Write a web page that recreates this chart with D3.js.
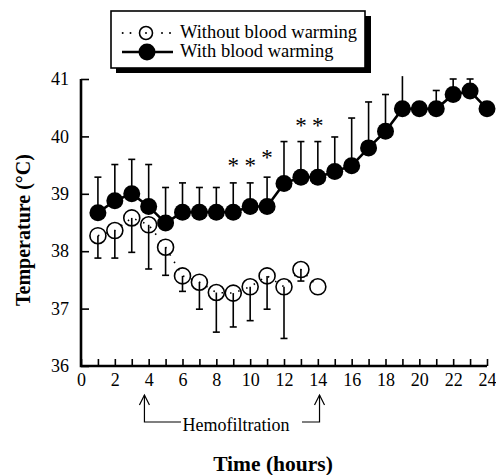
<!DOCTYPE html>
<html><head><meta charset="utf-8">
<script src="https://cdn.jsdelivr.net/npm/d3@7"></script>
<style>body{margin:0;background:#fff}svg{display:block}</style>
</head><body>
<script>
const hours = [1,2,3,4,5,6,7,8,9,10,11,12,13,14,15,16,17,18,19,20,21,22,23,24];
const withWarm = [38.67,38.88,39.0,38.78,38.49,38.68,38.68,38.68,38.68,38.78,38.78,39.18,39.29,39.29,39.39,39.49,39.80,40.09,40.48,40.48,40.48,40.73,40.79,40.48];
const withWarmUpper = [39.29,39.51,39.6,39.51,39.11,39.19,39.11,39.11,39.19,39.19,39.29,39.91,39.91,39.91,39.99,40.32,40.60,40.73,41.05,null,40.8,41.0,41.0,null];
const noHours = [1,2,3,4,5,6,7,8,9,10,11,12,13,14];
const noWarm = [38.27,38.36,38.58,38.46,38.07,37.57,37.46,37.28,37.27,37.38,37.57,37.38,37.68,37.38];
const noWarmLower = [37.88,37.88,37.98,37.69,37.58,37.30,36.99,36.59,36.68,36.79,36.99,36.48,37.48,null];
const starHours = [9,10,11,13,14];
const starLevels = [39.55,39.55,39.69,40.25,40.25];
const xTicks = d3.range(0,25,1);
const xLabels = d3.range(0,25,2);
const yTicks = [36,37,38,39,40,41];
const legendLabels = ["Without blood warming","With blood warming"];
const hemoRange = [3.75,14.1];

const FONT = "'Liberation Serif', Tinos, 'Times New Roman', 'DejaVu Serif', serif";
const W=496,H=475;
const svg=d3.select("body").append("svg").attr("width",W).attr("height",H).attr("font-family",FONT);
const x=d3.scaleLinear().domain([0,24]).range([81,487]);
const y=d3.scaleLinear().domain([36,41]).range([366,79]);

// axes
const xAxis=d3.axisBottom(x).tickValues(xTicks).tickSize(-7).tickFormat(d=> xLabels.includes(d)?d:"").tickPadding(10);
const gx=svg.append("g").attr("transform",`translate(0,${y(36)})`).call(xAxis).attr("font-family",FONT).attr("font-size",18);
gx.select(".domain").remove();
gx.selectAll(".tick line").attr("stroke","#000").attr("stroke-width",1.6);
gx.selectAll(".tick text").attr("fill","#000").attr("dy","0.55em");
const yAxis=d3.axisLeft(y).tickValues(yTicks).tickSize(-8).tickFormat(d3.format("d")).tickPadding(12);
const gy=svg.append("g").attr("transform",`translate(${x(0)},0)`).call(yAxis).attr("font-family",FONT).attr("font-size",18);
gy.select(".domain").remove();
gy.selectAll(".tick line").attr("stroke","#000").attr("stroke-width",1.6);
gy.selectAll(".tick text").attr("fill","#000");
svg.append("path").attr("d",`M${x(0)},${y(41)}V${y(36)}H${x(24)}`).attr("fill","none").attr("stroke","#000").attr("stroke-width",2.6);

// open series
const noData=noHours.map((h,i)=>({h,v:noWarm[i],lo:noWarmLower[i]}));
svg.append("path").datum(noData).attr("d",d3.line().x(d=>x(d.h)).y(d=>y(d.v)))
 .attr("fill","none").attr("stroke","#000").attr("stroke-width",1.6).attr("stroke-dasharray","1.5,7");
const eb1=svg.append("g").attr("stroke","#000").attr("stroke-width",1.6);
noData.filter(d=>d.lo!=null).forEach(d=>{
  eb1.append("line").attr("x1",x(d.h)).attr("x2",x(d.h)).attr("y1",y(d.v)).attr("y2",y(d.lo));
  eb1.append("line").attr("x1",x(d.h)-3.5).attr("x2",x(d.h)+3.5).attr("y1",y(d.lo)).attr("y2",y(d.lo));
});
svg.append("g").selectAll("circle").data(noData).join("circle")
 .attr("cx",d=>x(d.h)).attr("cy",d=>y(d.v)).attr("r",8).attr("fill","none").attr("stroke","#000").attr("stroke-width",1.6);

// filled series
const wData=hours.map((h,i)=>({h,v:withWarm[i],hi:withWarmUpper[i]}));
const eb2=svg.append("g").attr("stroke","#000").attr("stroke-width",1.6);
wData.filter(d=>d.hi!=null).forEach(d=>{
  eb2.append("line").attr("x1",x(d.h)).attr("x2",x(d.h)).attr("y1",y(d.v)).attr("y2",y(d.hi));
  if(d.hi<=41) eb2.append("line").attr("x1",x(d.h)-3.5).attr("x2",x(d.h)+3.5).attr("y1",y(d.hi)).attr("y2",y(d.hi));
});
svg.append("path").datum(wData).attr("d",d3.line().x(d=>x(d.h)).y(d=>y(d.v)))
 .attr("fill","none").attr("stroke","#000").attr("stroke-width",2.6);
svg.append("g").selectAll("circle").data(wData).join("circle")
 .attr("cx",d=>x(d.h)).attr("cy",d=>y(d.v)).attr("r",8.5).attr("fill","#000");

// stars
svg.append("g").selectAll("text").data(starHours).join("text")
 .attr("x",d=>x(d)).attr("y",(d,i)=>y(starLevels[i])+11).attr("text-anchor","middle").attr("font-size",23).text("*");

// axis titles
svg.append("text").attr("transform",`translate(30,230) rotate(-90)`).attr("text-anchor","middle")
 .attr("font-size",20).attr("font-weight","bold").text("Temperature (°C)");
svg.append("text").attr("x",273).attr("y",471).attr("text-anchor","middle").attr("font-size",21.5).attr("font-weight","bold").text("Time (hours)");

// hemofiltration annotation
const ax1=x(hemoRange[0]), ax2=x(hemoRange[1]), arrTop=395, arrBot=422;
const ann=svg.append("g").attr("stroke","#000").attr("stroke-width",1.2).attr("fill","none");
ann.append("path").attr("d",`M${ax1},${arrTop}V${arrBot}H181`);
ann.append("path").attr("d",`M${ax1-5},${arrTop+10}L${ax1},${arrTop}L${ax1+5},${arrTop+10}`);
ann.append("path").attr("d",`M302,${arrBot}H${ax2}V${arrTop}`);
ann.append("path").attr("d",`M${ax2-5},${arrTop+10}L${ax2},${arrTop}L${ax2+5},${arrTop+10}`);
svg.append("text").attr("x",236).attr("y",431).attr("text-anchor","middle").attr("font-size",18).text("Hemofiltration");

// legend
const lg=svg.append("g");
lg.append("rect").attr("x",116).attr("y",16).attr("width",255).attr("height",57).attr("fill","#000");
lg.append("rect").attr("x",111).attr("y",11).attr("width",254).attr("height",57).attr("fill","#fff").attr("stroke","#000").attr("stroke-width",1.6);
[122.7,130.5,162,170].forEach(cx=>lg.append("circle").attr("cx",cx).attr("cy",33).attr("r",1).attr("fill","#000"));
lg.append("circle").attr("cx",146).attr("cy",33).attr("r",6.5).attr("fill","#fff").attr("stroke","#000").attr("stroke-width",1.6);
lg.append("circle").attr("cx",146).attr("cy",33).attr("r",1).attr("fill","#000");
lg.append("line").attr("x1",122).attr("x2",173).attr("y1",52).attr("y2",52).attr("stroke","#000").attr("stroke-width",2.6);
lg.append("circle").attr("cx",147).attr("cy",52).attr("r",8.5).attr("fill","#000");
lg.selectAll("text.l").data(legendLabels).join("text").attr("class","l").attr("x",180).attr("y",(d,i)=>38+i*19).attr("font-size",18.5).text(d=>d);
</script>
</body></html>
